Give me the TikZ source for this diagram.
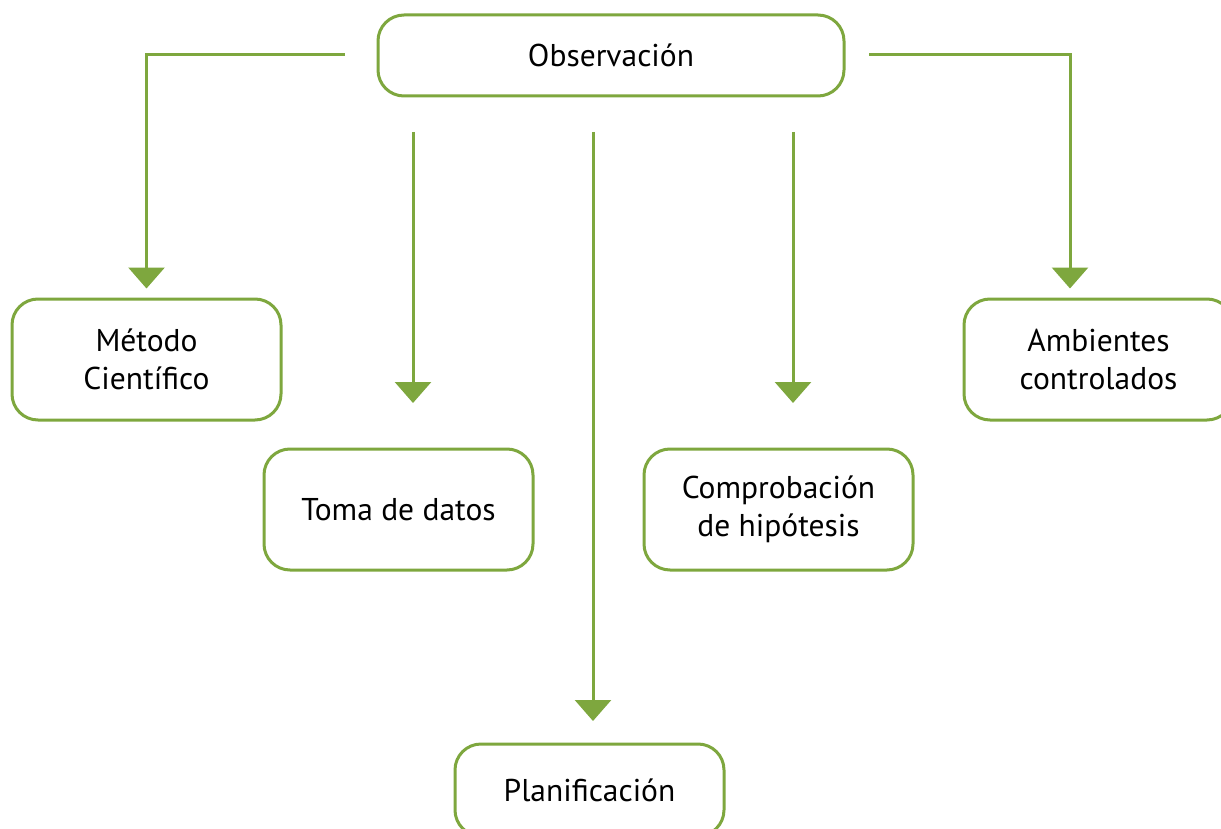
\documentclass[tikz,border=0pt]{standalone}
\usepackage{fontspec}
\setmainfont{PT Sans}
\usetikzlibrary{arrows.meta}
\definecolor{hojaverde}{RGB}{126,167,62}

\begin{document}
\begin{tikzpicture}[x=1pt,y=-1pt,
    caja/.style={draw=hojaverde,line width=3pt,rounded corners=26pt,fill=white,
      minimum width=269pt,minimum height=121pt,align=center,
      font=\fontsize{31.5}{38}\selectfont},
    flecha/.style={draw=hojaverde,line width=3pt,-{Triangle[width=36pt,length=21pt]}}]
      \useasboundingbox (0,0) rectangle (1221,829);
      \clip (0,0) rectangle (1221,829);
      % cajas
      \node[caja,minimum width=466pt,minimum height=81pt] (obs) at (611,55.5) {Observación};
      \node[caja] (metodo) at (146.5,359.5) {Método\\Científico};
      \node[caja] (toma) at (398.5,509.5) {Toma de datos};
      \node[caja] (comp) at (778.5,509.5) {Comprobación\\de hipótesis};
      \node[caja] (amb) at (1098.5,359.5) {Ambientes\\controlados};
      \node[caja,minimum height=92pt] (plan) at (589.5,790) {Planificación};
      % flechas
      \coordinate (izq) at (345,55);
      \coordinate (der) at (869,55);
      \coordinate (ini1) at (413,132);
      \coordinate (ini2) at (593,132);
      \coordinate (ini3) at (793,132);
      \draw[flecha] (izq) -| ([yshift=9pt]metodo.north);
      \draw[flecha] (der) -| ([yshift=9pt]amb.north -| 1070,0);
      \draw[flecha] (ini1) -- (ini1 |- 0,403);
      \draw[flecha] (ini2) -- (ini2 |- 0,721);
      \draw[flecha] (ini3) -- (ini3 |- 0,403);
\end{tikzpicture}
\end{document}
